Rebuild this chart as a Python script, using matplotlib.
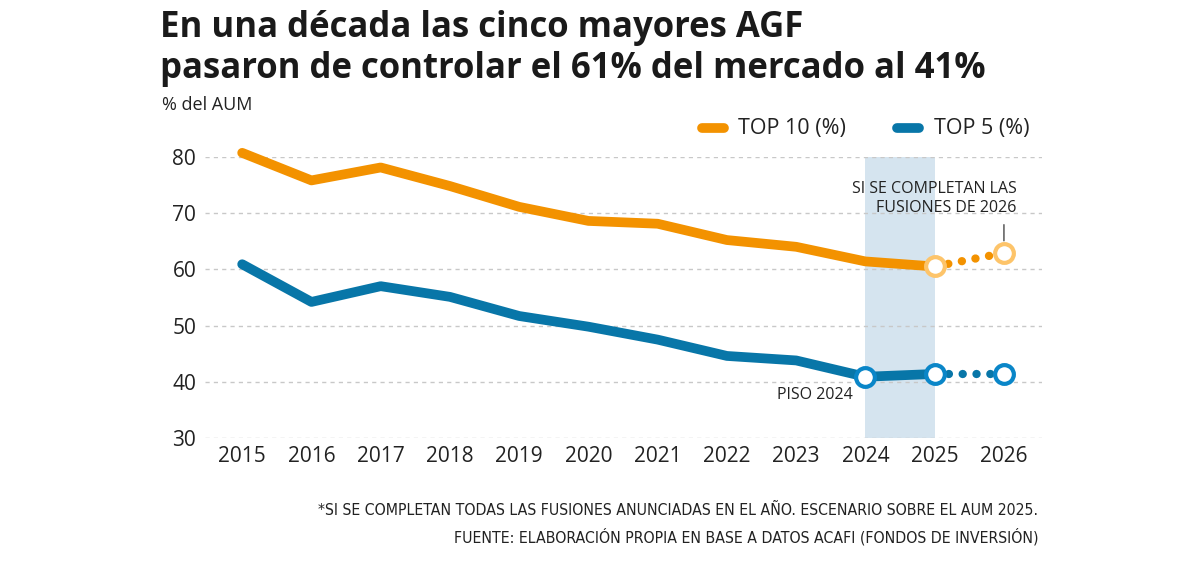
import matplotlib.pyplot as plt
from matplotlib import font_manager

years = [2015, 2016, 2017, 2018, 2019, 2020, 2021, 2022, 2023, 2024, 2025]
top10 = [80.7, 75.8, 78.1, 74.8, 71.1, 68.6, 68.1, 65.2, 64.0, 61.4, 60.5]
top5 = [60.9, 54.2, 57.0, 55.1, 51.7, 49.8, 47.5, 44.6, 43.8, 40.9, 41.4]
proj_years = [2025, 2026]
top10_proj = [60.5, 62.9]
top5_proj = [41.4, 41.4]
all_years = list(range(2015, 2027))

orange = "#F39200"
orange_light = "#FDC46A"
blue = "#0876A8"
blue_light = "#0A86C8"
ink = "#222222"

plt.rcParams['font.family'] = ['Open Sans', 'DejaVu Sans']

# a narrow face for the footer if one is around
names = set(f.name for f in font_manager.fontManager.ttflist)
narrow = None
for n in ['Liberation Sans Narrow', 'DejaVu Sans Condensed']:
    if n in names:
        narrow = n
        break

fig = plt.figure(figsize=(12, 5.66), dpi=100)
ax = fig.add_axes([0.171, 0.226, 0.697, 0.497])

ax.set_xlim(2014.466, 2026.544)
ax.set_ylim(30, 80)

# highlight band 2024-2025
ax.axvspan(2024, 2025, color="#D5E4EF", zorder=0, lw=0)

for y in [30, 40, 50, 60, 70, 80]:
    ax.axhline(y, color="#C8C8C8", lw=1, ls=(0, (3, 3)), zorder=1)

ax.plot(years, top10, color=orange, lw=7, solid_capstyle="round",
        solid_joinstyle="round", zorder=3, clip_on=False)
ax.plot(years, top5, color=blue, lw=7, solid_capstyle="round",
        solid_joinstyle="round", zorder=3, clip_on=False)

# projection, dotted
ax.plot(proj_years, top10_proj, color=orange, lw=6,
        ls=(0, (0.01, 1.65)), dash_capstyle="round", zorder=2)
ax.plot(proj_years, top5_proj, color=blue, lw=6,
        ls=(0, (0.01, 1.65)), dash_capstyle="round", zorder=2)

ax.plot(proj_years, top10_proj, ls="none", marker="o", ms=13.5, mfc="white",
        mec=orange_light, mew=3, zorder=4, clip_on=False)
ax.plot([2024] + proj_years, [top5[-2]] + top5_proj, ls="none", marker="o",
        ms=13.5, mfc="white", mec=blue_light, mew=3, zorder=4, clip_on=False)

ax.annotate("", xy=(2026, 64.6), xytext=(2026, 68.4),
            arrowprops=dict(arrowstyle="-", color="#666666", lw=1.2))
ax.text(2026.18, 72.6, "SI SE COMPLETAN LAS\nFUSIONES DE 2026", ha="right",
        va="center", fontsize=11.5, color=ink, linespacing=1.3)
ax.text(2023.82, 37.7, "PISO 2024", ha="right", va="center", fontsize=11.5,
        color=ink)

ax.set_xticks(all_years)
ax.set_xticklabels([str(y) for y in all_years], fontsize=15, color=ink)
ax.set_yticks([30, 40, 50, 60, 70, 80])
ax.set_yticklabels(["30", "40", "50", "60", "70", "80"], fontsize=15,
                   color=ink)
ax.tick_params(length=0, pad=6)
ax.tick_params(axis="y", pad=6.5)
for s in ax.spines.values():
    s.set_visible(False)

fig.text(0.133, 1 - 37 / 566, "En una década las cinco mayores AGF",
         fontsize=25, fontweight="bold", color="#1a1a1a", va="baseline")
fig.text(0.133, 1 - 78 / 566, "pasaron de controlar el 61% del mercado al 41%",
         fontsize=25, fontweight="bold", color="#1a1a1a", va="baseline")
fig.text(0.135, 0.815, "% del AUM", fontsize=13, color=ink, va="center")

# legend
ly = 1 - 128 / 566
fig.add_artist(plt.Line2D([702 / 1200, 724 / 1200], [ly, ly], color=orange,
                          lw=7, solid_capstyle="round"))
fig.text(738 / 1200, ly, "TOP 10 (%)", fontsize=15.5, color=ink, va="center")
fig.add_artist(plt.Line2D([897 / 1200, 919 / 1200], [ly, ly], color=blue,
                          lw=7, solid_capstyle="round"))
fig.text(934 / 1200, ly, "TOP 5 (%)", fontsize=15.5, color=ink, va="center")

if narrow:
    foot = dict(family=[narrow, 'DejaVu Sans'], fontsize=12.5)
else:
    foot = dict(family=['DejaVu Sans'], fontstretch='condensed', fontsize=11.3)
fig.text(0.865, 1 - 510 / 566, "*SI SE COMPLETAN TODAS LAS FUSIONES ANUNCIADAS EN EL AÑO. ESCENARIO SOBRE EL AUM 2025.",
         ha="right", va="center", color=ink, **foot)
fig.text(0.865, 1 - 537 / 566, "FUENTE: ELABORACIÓN PROPIA EN BASE A DATOS ACAFI (FONDOS DE INVERSIÓN)",
         ha="right", va="center", color=ink, **foot)

fig.savefig("out.png", dpi=100, facecolor="white")
